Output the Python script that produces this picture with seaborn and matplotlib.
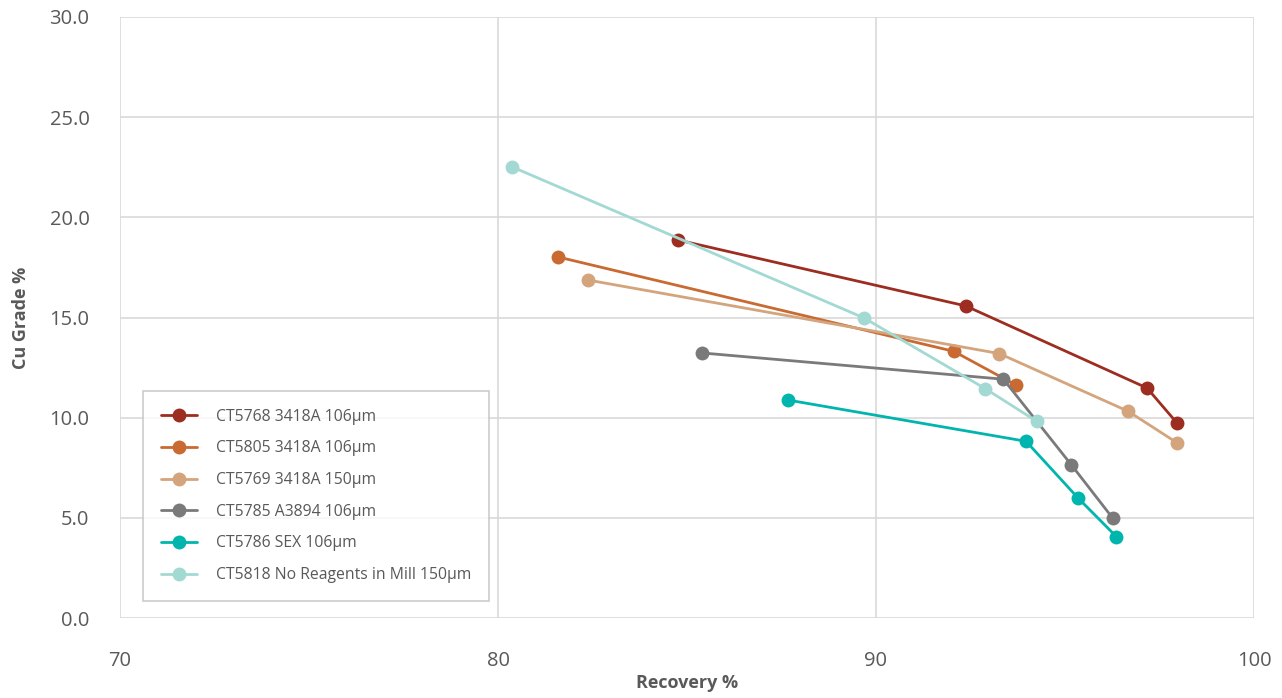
import matplotlib.pyplot as plt
import pandas as pd
import seaborn as sns

# Data
series_names = ["CT5768 3418A 106µm", "CT5805 3418A 106µm", "CT5769 3418A 150µm",
                "CT5785 A3894 106µm", "CT5786 SEX 106µm", "CT5818 No Reagents in Mill 150µm"]
recovery = [
    [84.76, 92.37, 97.17, 97.96],
    [81.59, 92.06, 93.70],
    [82.38, 93.26, 96.67, 97.96],
    [85.40, 93.37, 95.17, 96.26],
    [87.67, 93.97, 95.35, 96.36],
    [80.37, 89.68, 92.89, 94.25],
]
grade = [
    [18.87, 15.58, 11.48, 9.74],
    [18.02, 13.31, 11.63],
    [16.87, 13.20, 10.32, 8.75],
    [13.23, 11.92, 7.64, 4.99],
    [10.88, 8.82, 5.98, 4.06],
    [22.52, 14.98, 11.45, 9.82],
]
colors = ["#9C2D20", "#C86A32", "#D4A47C", "#7A7A7A", "#00B5AD", "#A3D9D3"]

rows = []
for name, xs, ys in zip(series_names, recovery, grade):
    for i, (x, y) in enumerate(zip(xs, ys)):
        rows.append({"series": name, "order": i, "Recovery %": x, "Cu Grade %": y})
df = pd.DataFrame(rows)

sns.set_style("white")
plt.rcParams["font.family"] = ["Open Sans", "DejaVu Sans"]

fig = plt.figure(figsize=(12.82, 6.98), dpi=100)
ax = fig.add_axes([120 / 1282, 80 / 698, 1134 / 1282, 601 / 698])

sns.lineplot(data=df, x="Recovery %", y="Cu Grade %", hue="series", hue_order=series_names,
             palette=colors, sort=False, estimator=None, units="series",
             marker="o", markersize=10, markeredgewidth=0, linewidth=2, ax=ax)

ax.set_xlim(70, 100)
ax.set_ylim(0, 30)
ax.set_xticks([70, 80, 90, 100])
ax.set_yticks([0, 5, 10, 15, 20, 25, 30])
ax.set_yticklabels([f"{v:.1f}" for v in [0, 5, 10, 15, 20, 25, 30]])
ax.grid(True, color="#D9D9D9", linewidth=1.2)
ax.set_axisbelow(True)
for s in ax.spines.values():
    s.set_visible(False)
ax.tick_params(axis="both", length=0, labelsize=14.5, colors="#595959")
ax.tick_params(axis="x", pad=24)
ax.tick_params(axis="y", pad=22)

ax.set_xlabel("Recovery %", fontsize=13, fontweight="bold", color="#595959", labelpad=2)
ax.set_ylabel("Cu Grade %", fontsize=13, fontweight="bold", color="#595959", labelpad=14)

leg = ax.legend(loc="lower left", bbox_to_anchor=(0.02, 0.028), frameon=True, fancybox=False,
                fontsize=11.3, labelspacing=1.0, borderpad=1.15, handlelength=2.3,
                handletextpad=1.2, borderaxespad=0)
leg.get_frame().set_edgecolor("#BFBFBF")
leg.get_frame().set_linewidth(1.2)
for t in leg.get_texts():
    t.set_color("#595959")

fig.savefig("out.png", dpi=100)
